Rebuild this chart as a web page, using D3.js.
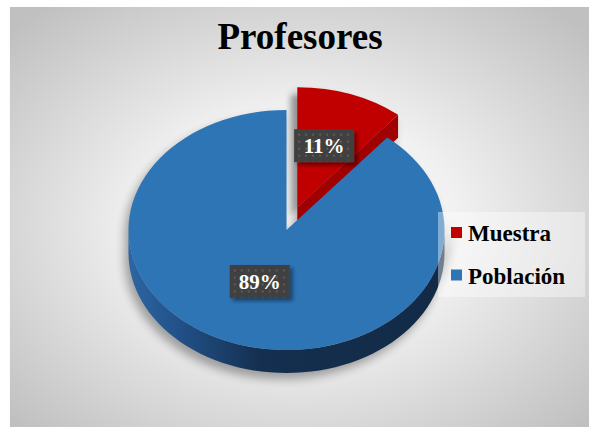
<!DOCTYPE html>
<html>
<head>
<meta charset="utf-8">
<script src="https://cdn.jsdelivr.net/npm/d3@7"></script>
<style>
  body { margin: 0; background: #fff; }
  svg { display: block; }
</style>
</head>
<body>
<script>
var width = 589,
    height = 427;

// data
var categories = ['Muestra', 'Población'];
var values = [11, 89];
var labels = ['11%', '89%'];
var colors = ['#c00000', '#2e75b6'];

var cx = 286.5, cy = 230,
    rx = 158, ry = 120,
    depth = 23,
    explode = [32, 0];

var svg = d3.select('body').append('svg')
    .attr('width', width)
    .attr('height', height);

var defs = svg.append('defs');

var bg = defs.append('radialGradient').attr('id', 'bg')
    .attr('cx', '50%').attr('cy', '52%').attr('r', '68%');
bg.append('stop').attr('offset', '0%').attr('stop-color', '#ffffff');
bg.append('stop').attr('offset', '40%').attr('stop-color', '#f1f1f1');
bg.append('stop').attr('offset', '100%').attr('stop-color', '#c0c0c0');

// side gradient, in the slice group's own coordinates
var side = defs.append('linearGradient').attr('id', 'side')
    .attr('gradientUnits', 'userSpaceOnUse')
    .attr('x1', -rx).attr('x2', rx).attr('y1', 0).attr('y2', 0);
side.append('stop').attr('offset', '0%').attr('stop-color', '#2d66a2');
side.append('stop').attr('offset', '15%').attr('stop-color', '#22528a');
side.append('stop').attr('offset', '42%').attr('stop-color', '#142f4f');
side.append('stop').attr('offset', '100%').attr('stop-color', '#122a46');

var blur = defs.append('filter').attr('id', 'blur')
    .attr('x', '-20%').attr('y', '-20%').attr('width', '140%').attr('height', '140%');
blur.append('feGaussianBlur').attr('stdDeviation', 5);

var blurSmall = defs.append('filter').attr('id', 'blurSmall')
    .attr('x', '-30%').attr('y', '-30%').attr('width', '160%').attr('height', '160%');
blurSmall.append('feGaussianBlur').attr('stdDeviation', 2.5);

var boxShadow = defs.append('filter').attr('id', 'boxShadow')
    .attr('x', '-20%').attr('y', '-30%').attr('width', '150%').attr('height', '180%');
boxShadow.append('feDropShadow').attr('dx', 3).attr('dy', 3)
    .attr('stdDeviation', 2).attr('flood-color', '#000').attr('flood-opacity', 0.45);

var dots = defs.append('pattern').attr('id', 'dots')
    .attr('patternUnits', 'userSpaceOnUse')
    .attr('width', 7).attr('height', 7);
dots.append('rect').attr('width', 7).attr('height', 7).attr('fill', '#404040');
dots.append('rect').attr('x', 2).attr('y', 2).attr('width', 2).attr('height', 2).attr('fill', '#5c5c5c');

// chart background
svg.append('rect')
    .attr('x', 9).attr('y', 7)
    .attr('width', width - 9).attr('height', height - 7)
    .attr('fill', 'url(#bg)');
svg.append('line')
    .attr('x1', 9.5).attr('x2', 9.5).attr('y1', 7).attr('y2', height)
    .attr('stroke', '#fafafa');

svg.append('text')
    .attr('x', 300).attr('y', 49)
    .attr('text-anchor', 'middle')
    .style('font-family', '"Liberation Serif", "Times New Roman", serif')
    .style('font-weight', 'bold')
    .style('font-size', '37px')
    .text('Profesores');

var pie = d3.pie().sort(null).value(function(d){ return d; });
var slices = pie(values);

var k = ry / rx;

var arc = d3.arc().innerRadius(0).outerRadius(rx);
var labelArc = d3.arc().innerRadius(0).outerRadius(rx);

function offset(d, i) {
    var m = (d.startAngle + d.endAngle) / 2;
    var e = explode[i];
    return [e * Math.sin(m), -e * Math.cos(m) * k];
}

function pt(a, dz) {
    return [rx * Math.sin(a), -ry * Math.cos(a) + (dz || 0)];
}

var line = d3.line();

function sidePath(a0, a1) {
    var s = Math.max(a0, Math.PI / 2), e = Math.min(a1, Math.PI * 1.5);
    if (e <= s) return null;
    var n = 60, top = [], bot = [];
    d3.range(n + 1).forEach(function(j){
        var a = s + (e - s) * j / n;
        top.push(pt(a, 0));
        bot.push(pt(a, depth));
    });
    return line(top.concat(bot.reverse())) + 'Z';
}

function wallPath(a) {
    return line([[0, 0], pt(a, 0), pt(a, depth), [0, depth]]) + 'Z';
}

// soft shadow under the pie
var shadow = svg.append('g').attr('filter', 'url(#blur)').attr('opacity', 0.32);
slices.forEach(function(d, i){
    var o = offset(d, i);
    var g = shadow.append('g').attr('transform', 'translate(' + (cx + o[0] - 4) + ',' + (cy + o[1] + 6) + ')');
    g.append('path').attr('d', sidePath(0, Math.PI * 2)).attr('fill', '#000');
    g.append('path').attr('d', wallPath(d.endAngle)).attr('fill', '#000');
    g.append('path').attr('d', arc(d)).attr('transform', 'scale(1,' + k + ')').attr('fill', '#000');
    g.append('path').attr('d', arc(d)).attr('transform', 'translate(0,' + depth + ') scale(1,' + k + ')').attr('fill', '#000');
});

// tighter shadow of the exploded slice (fills the gap at the cut)
slices.forEach(function(d, i){
    if (!explode[i]) return;
    var o = offset(d, i);
    svg.append('path')
        .attr('d', arc(d))
        .attr('transform', 'translate(' + (cx + o[0] - 7) + ',' + (cy + o[1] + 8) + ') scale(1,' + k + ')')
        .attr('fill', '#000')
        .attr('opacity', 0.18)
        .attr('filter', 'url(#blurSmall)');
});

// draw slices back to front: red (exploded) first
[0, 1].forEach(function(i){
    var d = slices[i];
    var o = offset(d, i);
    var g = svg.append('g').attr('transform', 'translate(' + (cx + o[0]) + ',' + (cy + o[1]) + ')');

    var sp = sidePath(d.startAngle, d.endAngle);
    if (sp) g.append('path').attr('d', sp).attr('fill', i === 1 ? 'url(#side)' : '#900000');

    if (d.endAngle < Math.PI * 2 - 0.001 && Math.sin(d.endAngle) > 0) {
        g.append('path').attr('d', wallPath(d.endAngle)).attr('fill', '#a00000');
    }

    g.append('path')
        .attr('d', arc(d))
        .attr('transform', 'scale(1,' + k + ')')
        .attr('fill', colors[i]);
});

// data labels
slices.forEach(function(d, i){
    var o = offset(d, i);
    var c = labelArc.centroid(d);
    var x = cx + o[0] + c[0],
        y = cy + o[1] + c[1] * k - 5;
    var g = svg.append('g').attr('transform', 'translate(' + x + ',' + y + ')');
    g.append('rect')
        .attr('x', -30).attr('y', -16.5)
        .attr('width', 60).attr('height', 33)
        .attr('fill', 'url(#dots)')
        .attr('filter', 'url(#boxShadow)');
    g.append('text')
        .attr('text-anchor', 'middle')
        .attr('y', 7.5)
        .attr('fill', '#fff')
        .style('font-family', '"Liberation Serif", "Times New Roman", serif')
        .style('font-weight', 'bold')
        .style('font-size', '21px')
        .text(labels[i]);
});

// legend
var legend = svg.append('g');
legend.append('rect')
    .attr('x', 438).attr('y', 212)
    .attr('width', 147).attr('height', 85)
    .attr('fill', '#fff').attr('opacity', 0.4);

var items = legend.selectAll('.item').data(categories).enter().append('g')
    .attr('class', 'item')
    .attr('transform', function(d, i){ return 'translate(451,' + (227 + i * 42.5) + ')'; });
items.append('rect')
    .attr('width', 11).attr('height', 11)
    .attr('fill', function(d, i){ return colors[i]; });
items.append('text')
    .attr('x', 17).attr('y', 14)
    .style('font-family', '"Liberation Serif", "Times New Roman", serif')
    .style('font-weight', 'bold')
    .style('font-size', '23px')
    .text(function(d){ return d; });
</script>
</body>
</html>
